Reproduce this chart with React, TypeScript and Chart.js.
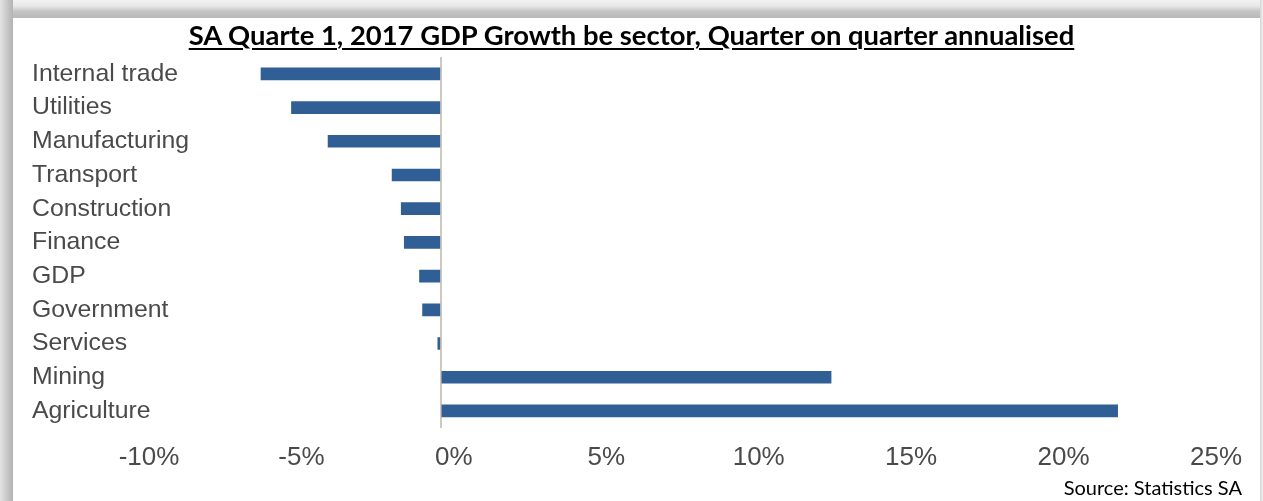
import React, { useEffect, useRef } from 'react';
import { Chart, registerables } from 'chart.js';

Chart.register(...registerables);

const titleText = 'SA Quarte 1, 2017 GDP Growth be sector, Quarter on quarter annualised';
const sourceText = 'Source: Statistics SA';
const sectors = [
  'Internal trade',
  'Utilities',
  'Manufacturing',
  'Transport',
  'Construction',
  'Finance',
  'GDP',
  'Government',
  'Services',
  'Mining',
  'Agriculture',
];
const growth = [-5.9, -4.9, -3.7, -1.6, -1.3, -1.2, -0.7, -0.6, -0.1, 12.8, 22.2];
const xTickValues = [-10, -5, 0, 5, 10, 15, 20, 25];

const W = 1263;
const H = 501;

export default function App() {
  const canvasRef = useRef<HTMLCanvasElement | null>(null);

  useEffect(() => {
    const canvas = canvasRef.current;
    if (!canvas) return;
    const chart = new Chart(canvas, {
      type: 'bar',
      data: {
        labels: sectors,
        datasets: [
          {
            data: growth,
            backgroundColor: '#2f5f95',
            borderWidth: 0,
            barThickness: 12,
          },
        ],
      },
      options: {
        indexAxis: 'y',
        responsive: false,
        animation: false,
        devicePixelRatio: 1,
        layout: { padding: { left: 136, right: 60, top: 57, bottom: 14 } },
        plugins: {
          legend: { display: false },
          title: { display: false },
          tooltip: { enabled: false },
        },
        scales: {
          x: {
            type: 'linear',
            min: xTickValues[0],
            max: xTickValues[xTickValues.length - 1],
            afterBuildTicks: (scale: any) => {
              scale.ticks = xTickValues.map((v) => ({ value: v }));
            },
            border: { display: false },
            grid: {
              drawTicks: false,
              lineWidth: 2,
              color: (ctx: any) => (ctx.tick && ctx.tick.value === 0 ? '#cfc8c0' : 'rgba(0,0,0,0)'),
            },
            ticks: {
              padding: 14,
              labelOffset: 13,
              color: '#4a4a4a',
              font: { family: '"Liberation Sans", Arial, sans-serif', size: 26 },
              callback: (v: any) => `${v}%`,
            },
          },
          y: {
            type: 'category',
            border: { display: false },
            grid: { display: false, drawTicks: false },
            afterFit: (scale: any) => {
              scale.width = 0;
            },
            ticks: {
              autoSkip: false,
              mirror: true,
              padding: -104,
              color: '#4a4a4a',
              font: { family: '"Liberation Sans", Arial, sans-serif', size: 24.8 },
            },
          },
        },
      },
    } as any);
    return () => chart.destroy();
  }, []);

  return (
    <div
      style={{
        position: 'fixed',
        left: 0,
        top: 0,
        width: W,
        height: H,
        background: '#ffffff',
        overflow: 'hidden',
      }}
    >
      <div
        style={{
          position: 'absolute',
          left: 0,
          top: 0,
          width: W,
          height: 18,
          background: 'linear-gradient(to bottom, #f2f2f2 0px, #e8e8e8 6px, #c6c6c6 11px, #bababa 17px, #bababa 18px)',
        }}
      />
      <div
        style={{
          position: 'absolute',
          left: 0,
          top: 0,
          width: 13,
          height: H,
          background: 'linear-gradient(to right, #e4e4e4 0px, #d0d0d0 5px, #c0c0c0 9px, #b4b4b4 13px)',
        }}
      />
      <div
        style={{
          position: 'absolute',
          left: W - 3,
          top: 0,
          width: 3,
          height: H,
          background: 'linear-gradient(to right, #d4d4d4, #f0f0f0)',
        }}
      />
      <canvas
        ref={canvasRef}
        width={W}
        height={H}
        style={{ position: 'absolute', left: 0, top: 0, width: W, height: H }}
      />
      <div
        style={{
          position: 'absolute',
          left: 0,
          top: 18,
          width: W,
          textAlign: 'center',
          fontFamily: 'Lato, "Noto Sans", sans-serif',
          fontWeight: 700,
          fontSize: 27.4,
          lineHeight: '33px',
          color: '#000',
          textDecoration: 'underline',
          textDecorationThickness: '2px',
          textUnderlineOffset: '3px',
          whiteSpace: 'nowrap',
        }}
      >
        {titleText}
      </div>
      <div
        style={{
          position: 'absolute',
          right: 21,
          top: 474,
          fontFamily: 'Lato, "Noto Sans", sans-serif',
          fontSize: 20,
          lineHeight: '26px',
          color: '#000',
          whiteSpace: 'nowrap',
        }}
      >
        {sourceText}
      </div>
    </div>
  );
}
